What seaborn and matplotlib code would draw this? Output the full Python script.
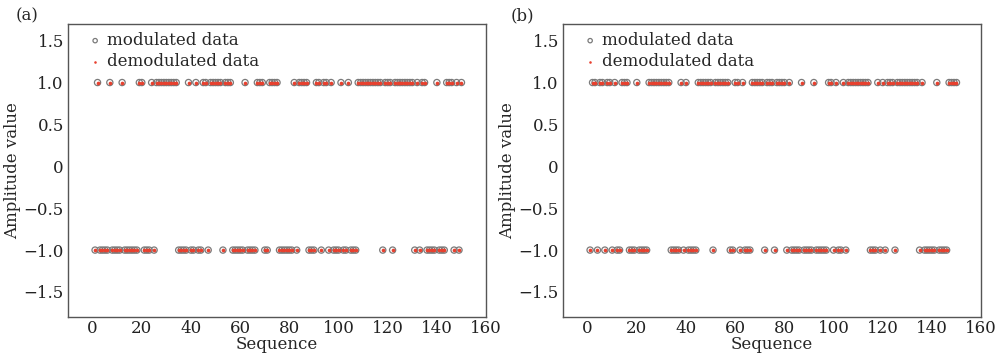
import matplotlib
matplotlib.use("Agg")
import matplotlib.pyplot as plt
import numpy as np
import pandas as pd
import seaborn as sns

# amplitude value of each symbol, sequence 1..150, rows of 25
VALUES_A = [
    -1, 1, -1, -1, -1, -1, 1, -1, -1, -1, -1, 1, -1, -1, -1, -1, -1, -1, 1, 1, -1, -1, -1, 1, -1,
    1, 1, 1, 1, 1, 1, 1, 1, 1, -1, -1, -1, -1, 1, -1, -1, 1, -1, -1, 1, 1, -1, 1, 1, 1,
    1, 1, -1, 1, 1, 1, -1, -1, -1, -1, -1, 1, -1, -1, -1, -1, 1, 1, 1, -1, -1, 1, 1, 1, 1,
    -1, -1, -1, -1, -1, -1, 1, -1, 1, 1, 1, 1, -1, -1, -1, 1, 1, -1, 1, 1, -1, 1, -1, -1, -1,
    1, -1, -1, 1, -1, -1, -1, 1, 1, 1, 1, 1, 1, 1, 1, 1, 1, -1, 1, 1, 1, -1, 1, 1, 1,
    1, 1, 1, 1, 1, -1, 1, -1, 1, 1, -1, -1, -1, -1, 1, -1, -1, -1, 1, 1, 1, -1, 1, -1, 1,
]
VALUES_B = [
    -1, 1, 1, -1, 1, 1, -1, 1, 1, -1, 1, -1, -1, 1, 1, 1, -1, -1, -1, 1, -1, -1, -1, -1, 1,
    1, 1, 1, 1, 1, 1, 1, 1, -1, -1, -1, -1, 1, -1, 1, -1, -1, -1, -1, 1, 1, 1, 1, 1, 1,
    -1, 1, 1, 1, 1, 1, 1, -1, -1, 1, 1, -1, 1, -1, -1, -1, 1, 1, 1, 1, 1, -1, 1, 1, 1,
    -1, 1, 1, 1, 1, -1, 1, -1, -1, -1, -1, 1, -1, -1, -1, -1, 1, -1, -1, -1, -1, -1, 1, 1, -1,
    1, -1, -1, 1, -1, 1, 1, 1, 1, 1, 1, 1, 1, 1, -1, -1, -1, 1, -1, 1, -1, 1, 1, 1, -1,
    1, 1, 1, 1, 1, 1, 1, 1, 1, -1, 1, -1, -1, -1, -1, -1, 1, -1, -1, -1, -1, 1, 1, 1, 1,
]
PANELS = ["(a)", "(b)"]
Y_TICKS = [1.5, 1.0, 0.5, 0, -0.5, -1.0, -1.5]
Y_TICK_LABELS = ["1.5", "1.0", "0.5", "0", "\u22120.5", "\u22121.0", "\u22121.5"]
X_TICKS = [0, 20, 40, 60, 80, 100, 120, 140, 160]

sns.set_style("white")
plt.rcParams["font.family"] = ["DejaVu Serif"]

RED = "#e8402e"
EDGE = "#7a7a7a"

fig = plt.figure(figsize=(9.96, 3.62), dpi=100)
boxes = [[0.0683, 0.124, 0.4197, 0.810], [0.5653, 0.124, 0.4197, 0.810]]

for box, label, values in zip(boxes, PANELS, [VALUES_A, VALUES_B]):
    ax = fig.add_axes(box)
    df = pd.DataFrame({"seq": np.arange(1, len(values) + 1), "amp": values})
    sns.scatterplot(data=df, x="seq", y="amp", ax=ax, marker="o", s=20,
                    facecolor="none", edgecolor=EDGE, linewidth=0.9,
                    label="modulated data", zorder=2)
    sns.scatterplot(data=df, x="seq", y="amp", ax=ax, marker="o", s=7,
                    color=RED, linewidth=0, label="demodulated data", zorder=3)
    ax.set_xlim(-10, 160)
    ax.set_ylim(-1.8, 1.7)
    ax.set_xticks(X_TICKS)
    ax.set_yticks(Y_TICKS)
    ax.set_yticklabels(Y_TICK_LABELS)
    ax.tick_params(direction="in", length=4, width=0.8, labelsize=12,
                   colors="#222222", pad=3)
    ax.tick_params(axis="x", pad=2)
    for sp in ax.spines.values():
        sp.set_color("#555555")
        sp.set_linewidth(1.0)
    ax.set_xlabel("Sequence", fontsize=12, labelpad=-1)
    ax.set_ylabel("Amplitude value", fontsize=12, labelpad=2)
    ax.legend(loc="upper left", bbox_to_anchor=(0.025, 0.995), frameon=False,
              fontsize=12, handletextpad=0.1, labelspacing=0.25,
              borderaxespad=0.0, handlelength=1.2, markerscale=0.7)
    ax.text(-0.125, 1.0, label, transform=ax.transAxes, fontsize=12,
            ha="left", va="bottom")

fig.savefig("out.png", dpi=100)
